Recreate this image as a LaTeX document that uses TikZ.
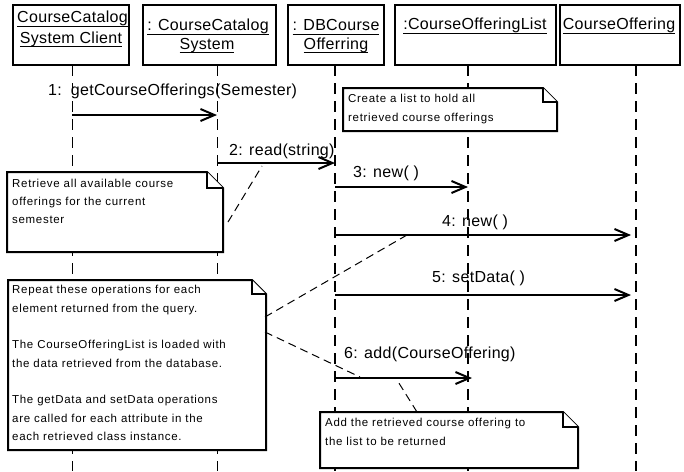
\documentclass[tikz,border=0pt]{standalone}
\usepackage{fontspec}
\setmainfont{Liberation Sans}
\newfontfamily\hdrfont[LetterSpace=2]{Liberation Sans}
\newfontfamily\notefont[LetterSpace=6]{Liberation Sans}
\usetikzlibrary{arrows.meta}
\newcommand\myul[1]{\setbox0\hbox{#1}\rlap{\rule[-4pt]{\wd0}{1pt}}\box0}
\newcommand\umlnote[5]{%
  \filldraw[notebox] (#1,#2) -- ({#3-#5},#2) -- (#3,{#2+#5}) -- (#3,#4) -- (#1,#4) -- cycle;
  \draw[notebox] ({#3-#5},#2) -- ({#3-#5},{#2+#5}) -- (#3,{#2+#5});}
\tikzset{
  obj/.style={draw, line width=2pt, fill=white, inner sep=0pt},
  hdr/.style={font=\hdrfont\fontsize{16}{18}\selectfont, inner sep=0pt, anchor=base},
  lbl/.style={font=\hdrfont\fontsize{16}{18}\selectfont, inner sep=0pt, anchor=base west},
  msg/.style={line width=2pt, -{Straight Barb[length=14pt,width=12pt,line width=2pt]}},
  lifethin/.style={line width=1pt, dash pattern=on 11pt off 7pt},
  lifethick/.style={line width=2pt, dash pattern=on 11pt off 7pt},
  anchorline/.style={line width=1pt, dash pattern=on 8pt off 5pt},
  notebox/.style={line width=2pt, fill=white, line join=miter},
  notetext/.style={font=\notefont\fontsize{11.5}{18.3}\selectfont, inner sep=0pt, anchor=north west, align=left},
}
\begin{document}
\begin{tikzpicture}[x=1pt,y=-1pt]
\useasboundingbox (0,0) rectangle (684,471);
\fill[white] (0,0) rectangle (684,471);

% lifelines
\coordinate (L1) at (72,65);  \coordinate (L1e) at (72,471);
\coordinate (L2) at (217,65); \coordinate (L2e) at (217,471);
\coordinate (L3) at (335,65); \coordinate (L3e) at (335,471);
\coordinate (L4) at (468,65); \coordinate (L4e) at (468,471);
\coordinate (L5) at (636,65); \coordinate (L5e) at (636,471);
\draw[lifethin] (L1) -- (L1e);
\draw[lifethin] (L2) -- (L2e);
\draw[lifethick] (L3) -- (L3e);
\draw[lifethick] (L4) -- (L4e);
\draw[lifethick] (L5) -- (L5e);

% objects
\node[obj, minimum width=116pt, minimum height=60pt] (o1) at (71,35) {};
\node[obj, minimum width=133pt, minimum height=60pt] (o2) at (209.5,35) {};
\node[obj, minimum width=96pt, minimum height=60pt] (o3) at (336,35) {};
\node[obj, minimum width=161pt, minimum height=60pt] (o4) at (475.5,35) {};
\node[obj, minimum width=120pt, minimum height=60pt] (o5) at (620,35) {};

\node[hdr] (t1a) at (72.5,22.5) {\myul{CourseCatalog}};
\node[hdr] (t1b) at (71,43.2) {\myul{System Client}};
\node[hdr] (t2a) at (208,30.8) {\myul{: CourseCatalog}};
\node[hdr] (t2b) at (207,49.2) {\myul{System}};
\node[hdr] (t3a) at (336,30.8) {\myul{: DBCourse}};
\node[hdr] (t3b) at (336,49.2) {\myul{Offerring}};
\node[hdr] (t4) at (475,29.8) {\myul{:CourseOfferingList}};
\node[hdr] (t5) at (619,29.8) {\myul{CourseOffering}};

% message rows
\coordinate (r1) at (0,115);
\coordinate (r2) at (0,163);
\coordinate (r3) at (0,187);
\coordinate (r4) at (0,235);
\coordinate (r5) at (0,295);
\coordinate (r6) at (0,378);
\draw[msg] (L1 |- r1) -- (L2 |- r1);
\draw[msg] (L2 |- r2) -- (L3 |- r2);
\draw[msg] (L3 |- r3) -- (L4 |- r3);
\draw[msg, shorten >=5pt] (L3 |- r4) -- (L5 |- r4);
\draw[msg, shorten >=5pt] (L3 |- r5) -- (L5 |- r5);
\draw[msg, shorten >=-4pt] (L3 |- r6) -- (L4 |- r6);

% notes
\umlnote{343}{88}{557}{131}{14}
\node[notetext] (nA) at (348,92.7) {\rule{0pt}{10pt}Create a list to hold all\\retrieved course offerings};
\umlnote{7}{172}{223}{252}{16}
\node[notetext] (nB) at (12,177) {\rule{0pt}{10pt}Retrieve all available course\\offerings for the current\\semester};
\umlnote{8}{280}{266}{450}{14}
\node[notetext] (nC) at (12,283.5) {\rule{0pt}{10pt}Repeat these operations for each\\element returned from the query.\\[18.5pt]The CourseOfferingList is loaded with\\the data retrieved from the database.\\[18.5pt]The getData and setData operations\\are called for each attribute in the\\each retrieved class instance.};
\umlnote{320}{412}{578}{468}{15}
\node[notetext] (nD) at (325,416.7) {\rule{0pt}{10pt}Add the retrieved course offering to\\the list to be returned};

% note anchors
\coordinate (aB1) at (228,222); \coordinate (aB2) at (262,166);
\coordinate (aC1) at (265,317); \coordinate (aC2) at (407,235);
\coordinate (aC3) at (265,332); \coordinate (aC4) at (360,377);
\coordinate (aD1) at (417,412); \coordinate (aD2) at (397,380);
\draw[anchorline] (aB1) -- (aB2);
\draw[anchorline] (aC1) -- (aC2);
\draw[anchorline] (aC3) -- (aC4);
\draw[anchorline] (aD1) -- (aD2);

% labels
\node[lbl] (m1) at (48,95) {1:\hspace{9pt}getCourseOfferings(Semester)};
\node[lbl] (m2) at (229,155) {2: read(string)};
\node[lbl] (m3) at (353,177) {3: new( )};
\node[lbl] (m4) at (442,226) {4: new( )};
\node[lbl] (m5) at (432,282) {5: setData( )};
\node[lbl] (m6) at (344,358) {6: add(CourseOffering)};
\end{tikzpicture}
\end{document}
